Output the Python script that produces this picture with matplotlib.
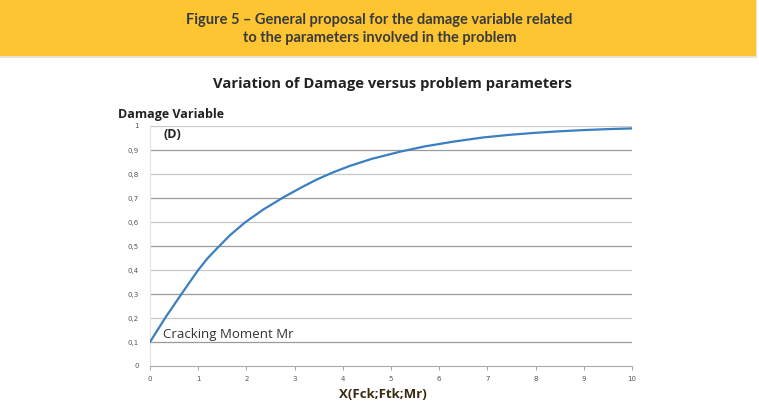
import numpy as np
import matplotlib.pyplot as plt
from matplotlib.patches import Rectangle

# values
x_vals = [0, 0.33, 0.67, 1.0, 1.2, 1.4, 1.66, 1.97, 2.35, 2.77, 3.15, 3.46, 3.8, 4.15, 4.6,
          5.19, 5.7, 6.3, 6.9, 7.45, 7.95, 8.5, 9.0, 9.5, 10]
d_vals = [0.10, 0.205, 0.305, 0.40, 0.45, 0.492, 0.545, 0.598, 0.652, 0.703, 0.745, 0.777,
          0.807, 0.834, 0.863, 0.893, 0.915, 0.935, 0.952, 0.963, 0.971, 0.978, 0.983,
          0.987, 0.99]

x_ticks = list(range(0, 11))
y_ticks = [0, 0.1, 0.2, 0.3, 0.4, 0.5, 0.6, 0.7, 0.8, 0.9, 1]
y_labels = ["0", "0,1", "0,2", "0,3", "0,4", "0,5", "0,6", "0,7", "0,8", "0,9", "1"]

fig = plt.figure(figsize=(7.59, 4.17), dpi=100)

# yellow caption banner
fig.patches.append(Rectangle((0, 1 - 58/417), 757/759, 58/417, transform=fig.transFigure,
                             facecolor="#e8e2d0", edgecolor="none", zorder=0))
fig.patches.append(Rectangle((0, 1 - 56/417), 756/759, 56/417, transform=fig.transFigure,
                             facecolor="#fcc531", edgecolor="none", zorder=1))
fig.text(0.5, 1 - 20/417, "Figure 5 – General proposal for the damage variable related",
         ha="center", va="center", fontsize=10.5, color="#3a3a3a", family="Lato", weight="bold")
fig.text(0.5, 1 - 38/417, "to the parameters involved in the problem",
         ha="center", va="center", fontsize=10.5, color="#3a3a3a", family="Lato", weight="bold")

fig.text(392/759, 1 - 84/417, "Variation of Damage versus problem parameters",
         ha="center", va="center", fontsize=10.6, color="#222222", family="Open Sans", weight="bold")

# y=0 at pixel 366, y=1 at pixel 126
ax = fig.add_axes([150/759, 1 - 366/417, 482/759, 240/417])
ax.plot(x_vals, d_vals, color="#3a7fc1", linewidth=1.6, zorder=3,
        solid_joinstyle="round", solid_capstyle="round")

ax.set_xlim(0, 10)
ax.set_ylim(0, 1)
ax.set_xticks(x_ticks)
ax.set_yticks(y_ticks)
ax.set_yticklabels(y_labels)
ax.tick_params(axis="both", labelsize=5, colors="#555555", length=0, pad=8)
ax.tick_params(axis="x", length=3, color="#aaaaaa", pad=4)
for i, y in enumerate(y_ticks[1:]):
    ax.axhline(y, color="#9a9a9a" if i % 2 == 0 else "#c8c8c8", linewidth=0.9, zorder=1)
for s in ["top", "right"]:
    ax.spines[s].set_visible(False)
ax.spines["left"].set_color("#e4e4e4")
ax.spines["bottom"].set_color("#aaaaaa")

ax.text(0.27, 0.13, "Cracking Moment Mr", fontsize=9.5, color="#333333", family="Open Sans",
        va="center")

fig.text(118/759, 1 - 114/417, "Damage Variable", fontsize=9, color="#222222",
         family="Open Sans", weight="bold", va="center")
fig.text(172/759, 1 - 134/417, "(D)", fontsize=9, color="#222222",
         family="Open Sans", weight="bold", ha="center", va="center")
fig.text(383/759, 1 - 395/417, "X(Fck;Ftk;Mr)", fontsize=9.5, color="#3a2a10",
         family="Open Sans", weight="bold", ha="center", va="center")

fig.savefig("out.png", dpi=100)
